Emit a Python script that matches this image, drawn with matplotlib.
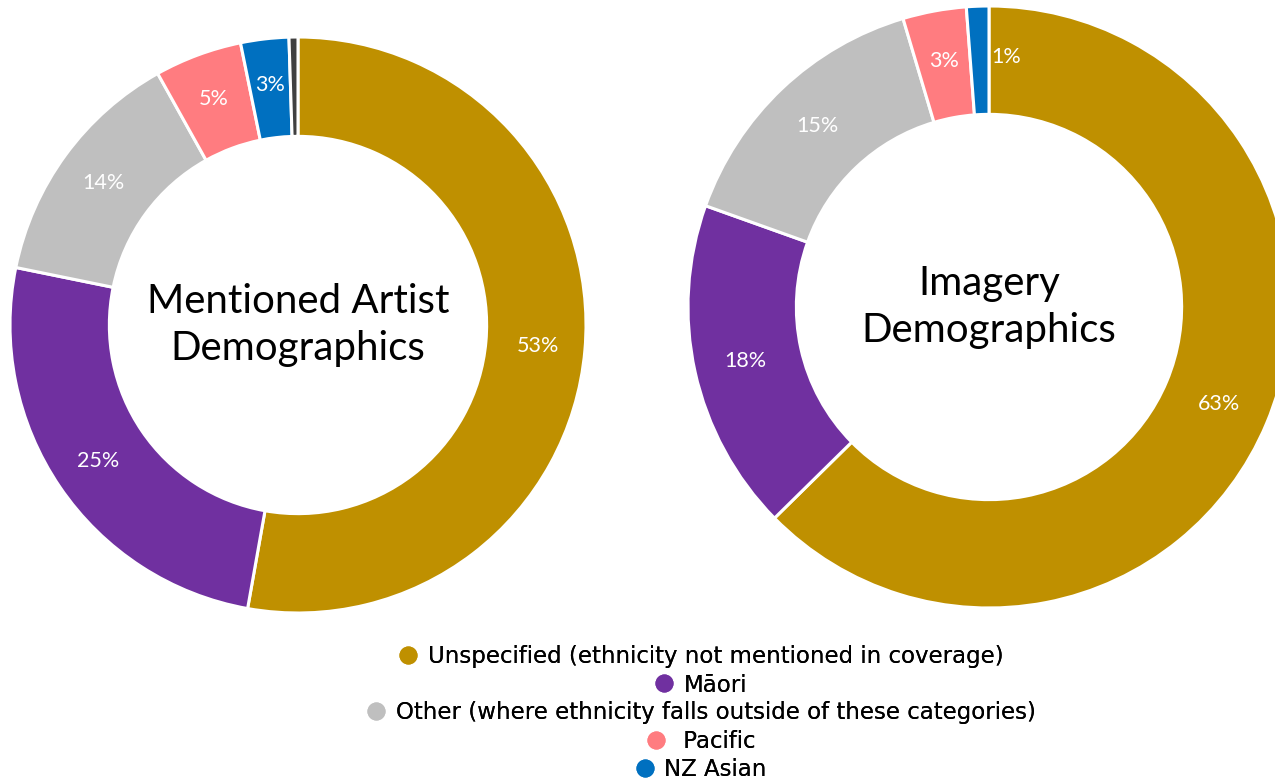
import matplotlib
matplotlib.use("Agg")
import numpy as np
import matplotlib.pyplot as plt
from matplotlib.lines import Line2D

plt.rcParams['font.family'] = ['Lato', 'DejaVu Sans']

categories = [
    "Unspecified (ethnicity not mentioned in coverage)",
    "Māori",
    "Other (where ethnicity falls outside of these categories)",
    " Pacific",
    "NZ Asian",
]
colors = ["#BF9000", "#7030A0", "#BFBFBF", "#FF7C80", "#0070C0"]

# Mentioned artists: the last, unlabelled sliver is a small remainder
artist_values = [52.8, 25.4, 13.7, 4.9, 2.7, 0.5]
artist_colors = colors + ["#404040"]
artist_labels = ["53%", "25%", "14%", "5%", "3%", ""]

imagery_values = [62.5, 17.8, 14.9, 3.4, 1.2]
imagery_labels = ["63%", "18%", "15%", "3%", "1%"]

W, H = 1275, 781
fig = plt.figure(figsize=(W / 100, H / 100), dpi=100)


def donut(cx, cy, r, hole, values, cols, labels, title, nudges=None):
    nudges = nudges or {}
    ax = fig.add_axes([(cx - r) / W, (H - cy - r) / H, 2 * r / W, 2 * r / H])
    width = 1 - hole
    wedges, _ = ax.pie(values, colors=cols, radius=1, startangle=90,
                       counterclock=False,
                       wedgeprops=dict(width=width, edgecolor='white', linewidth=2.2))
    ax.set_xlim(-1, 1)
    ax.set_ylim(-1, 1)
    ax.set_aspect('equal')
    ax.axis('off')
    for i, (w, lab) in enumerate(zip(wedges, labels)):
        if not lab:
            continue
        ang = np.deg2rad((w.theta1 + w.theta2) / 2)
        rr = 1 - width / 2 + 0.01
        ax.annotate(lab, (rr * np.cos(ang), rr * np.sin(ang)),
                    xytext=nudges.get(i, (0, 0)), textcoords='offset points',
                    ha='center', va='center', color='white', fontsize=15.5)
    ax.text(0, 0.0, title, ha='center', va='center', fontsize=29,
            color='black', linespacing=1.35)
    return ax


donut(298, 325, 288, 0.655, artist_values, artist_colors, artist_labels,
      "Mentioned Artist\nDemographics")
# the thin NZ Asian slice carries its label just clockwise of it
donut(989, 307, 301, 0.64, imagery_values, colors, imagery_labels,
      "Imagery\nDemographics", nudges={4: (19, 0)})

rows_y = [657, 685, 713, 742, 770]
for lab, col, y in zip(categories, colors, rows_y):
    h = Line2D([], [], marker='o', linestyle='none', markersize=12,
               markerfacecolor=col, markeredgecolor=col)
    leg = fig.legend([h], [lab], loc='center', bbox_to_anchor=(700 / W, 1 - y / H),
                     frameon=False, prop={'family': 'DejaVu Sans', 'size': 16.5},
                     handletextpad=0.35, borderpad=0, handlelength=1.0)
    fig.add_artist(leg)

fig.savefig("out.png", dpi=100, facecolor='white')
